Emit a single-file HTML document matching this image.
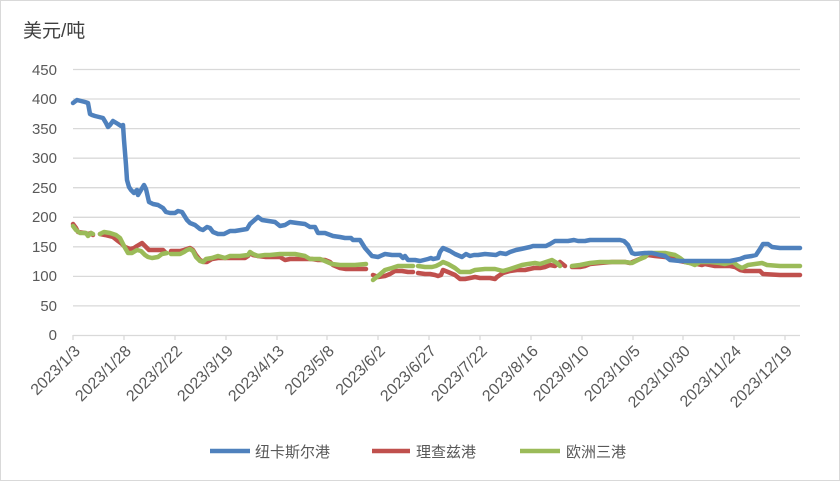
<!DOCTYPE html>
<html><head><meta charset="utf-8"><style>
body{margin:0;background:#fff;}
svg{display:block;font-family:"Liberation Sans","Noto Sans CJK SC",sans-serif;}
</style></head><body>
<svg width="840" height="481" viewBox="0 0 840 481">
<rect x="0.5" y="0.5" width="839" height="480" fill="#fff" stroke="#d9d9d9"/>
<text x="23" y="37" font-size="19" fill="#404040">美元/吨</text>
<g stroke="#d9d9d9" stroke-width="1.3">
<line x1="73" x2="800" y1="69.5" y2="69.5"/><line x1="73" x2="800" y1="99" y2="99"/>
<line x1="73" x2="800" y1="128.6" y2="128.6"/><line x1="73" x2="800" y1="158.2" y2="158.2"/>
<line x1="73" x2="800" y1="187.7" y2="187.7"/><line x1="73" x2="800" y1="217.3" y2="217.3"/>
<line x1="73" x2="800" y1="246.8" y2="246.8"/><line x1="73" x2="800" y1="276.4" y2="276.4"/>
<line x1="73" x2="800" y1="305.9" y2="305.9"/><line x1="73" x2="800" y1="335.5" y2="335.5"/>
<path d="M73,335v5M124,335v5M175,335v5M226,335v5M277,335v5M327,335v5M378,335v5M429,335v5M480,335v5M531,335v5M582,335v5M633,335v5M683,335v5M734,335v5M785,335v5"/>
</g>
<g font-size="15" fill="#595959" text-anchor="end">
<text x="57" y="75">450</text><text x="57" y="104">400</text><text x="57" y="134">350</text>
<text x="57" y="163">300</text><text x="57" y="193">250</text><text x="57" y="222">200</text>
<text x="57" y="252">150</text><text x="57" y="281">100</text><text x="57" y="311">50</text><text x="57" y="340">0</text>
</g>
<g font-size="16" fill="#595959" text-anchor="end">
<text transform="translate(81,352) rotate(-45)">2023/1/3</text>
<text transform="translate(132,352) rotate(-45)">2023/1/28</text>
<text transform="translate(183,352) rotate(-45)">2023/2/22</text>
<text transform="translate(234,352) rotate(-45)">2023/3/19</text>
<text transform="translate(285,352) rotate(-45)">2023/4/13</text>
<text transform="translate(335,352) rotate(-45)">2023/5/8</text>
<text transform="translate(386,352) rotate(-45)">2023/6/2</text>
<text transform="translate(437,352) rotate(-45)">2023/6/27</text>
<text transform="translate(488,352) rotate(-45)">2023/7/22</text>
<text transform="translate(539,352) rotate(-45)">2023/8/16</text>
<text transform="translate(590,352) rotate(-45)">2023/9/10</text>
<text transform="translate(641,352) rotate(-45)">2023/10/5</text>
<text transform="translate(691,352) rotate(-45)">2023/10/30</text>
<text transform="translate(742,352) rotate(-45)">2023/11/24</text>
<text transform="translate(793,352) rotate(-45)">2023/12/19</text>
</g>
<g fill="none" stroke-width="4.5" stroke-linejoin="round" stroke-linecap="round">
<polyline stroke="#c0504d" points="73,224 76,228 78,232 85,233 88,234 91,233 93,235"/>
<polyline stroke="#c0504d" points="100,234 105,235 113,237 118,241 122,244 125,247 130,249 134,248 137,246 142,243 146,247 149,250 155,250 163,250 165,252"/>
<polyline stroke="#c0504d" points="171,251 180,251 184,250 187,249 190,248 193,250 196,255 200,260 204,262 207,262 212,259 218,258 225,258 233,258 240,258 245,258 248,256 250,253 253,255 258,256 266,257 280,257 285,260 290,259 300,259 312,259 318,260 325,260 330,262 333,265 340,268 346,269 360,269 366,269"/>
<polyline stroke="#c0504d" points="373,275 378,277 385,276 390,274 395,271 402,271 408,272 413,272"/>
<polyline stroke="#c0504d" points="418,273 425,274 430,274 435,275 438,276 441,275 443,270 448,272 455,275 460,279 465,279 470,278 475,277 480,278 490,278 495,279 497,277 503,273 510,271 517,270 525,270 534,268 540,268 545,267 550,265 555,266 560,262 565,266"/>
<polyline stroke="#c0504d" points="572,267 580,267 585,266 590,264 600,263 612,262 625,262 630,263 635,261 642,258 648,255 655,256 665,257 675,258 680,261 690,263 697,264 702,265 705,264 710,265 715,266 725,266 730,266 735,267 740,270 745,271 750,271 755,271 760,271 763,274 780,275 800,275"/>
<polyline stroke="#9bbb59" points="73,226 76,230 80,233 86,233 88,236 91,233 93,234"/>
<polyline stroke="#9bbb59" points="100,234 104,232 110,233 116,235 120,238 124,246 128,253 132,253 137,250 141,251 145,255 148,257 152,258 158,257 162,254 167,253"/>
<polyline stroke="#9bbb59" points="171,254 180,254 184,252 187,250 190,249 193,251 196,257 200,261 203,262 206,259 212,258 218,256 225,258 230,256 240,256 248,255 250,252 253,254 258,256 265,255 270,255 280,254 295,254 305,256 310,259 320,259 325,261 332,264 340,265 355,265 366,264"/>
<polyline stroke="#9bbb59" points="373,280 378,276 385,270 392,268 398,266 404,266 413,266"/>
<polyline stroke="#9bbb59" points="418,266 425,267 432,267 436,266 440,264 443,262 448,264 455,268 460,272 470,272 475,270 485,269 495,269 503,271 510,269 516,267 522,265 528,264 535,263 540,264 546,262 552,260 557,263 560,266"/>
<polyline stroke="#9bbb59" points="572,266 580,265 585,264 590,263 600,262 615,262 625,262 632,263 640,259 645,257 648,253 655,253 665,253 675,255 680,258 685,262 690,263 695,265 700,262 710,262 720,263 725,264 733,262 738,266 742,268 748,265 755,264 762,263 767,265 780,266 800,266"/>
<polyline stroke="#4f81bd" points="73,103 77,100 85,102 88,103 90,114 92,115 95,116 103,118 106,123 108,127 110,125 113,121 118,124 121,126 123,125 124,140 126,165 127,180 129,187 131,190 134,193 137,190 138,195 141,190 144,185 146,189 149,202 153,204 158,205 163,208 166,212 170,213 175,213 178,211 182,212 187,220 190,223 195,225 200,229 203,230 207,227 210,228 213,232 218,234 224,234 230,231 235,231 241,230 247,229 250,224 258,217 262,220 275,222 280,226 285,225 290,222 297,223 305,224 310,227 315,227 318,233 325,233 333,236 340,237 345,238 351,238 353,240 360,240 365,248 372,256 378,257 385,254 392,255 400,255 403,258 405,256 408,260 415,260 420,261 428,259 431,258 433,259 438,258 440,252 443,248 450,251 455,254 462,257 466,254 470,256 474,255 478,255 485,254 496,255 500,253 506,254 510,252 516,250 521,249 530,247 533,246 540,246 546,246 550,244 555,241 563,241 568,241 574,240 578,241 585,241 590,240 610,240 620,240 624,241 628,245 632,253 635,254 645,253 652,253 656,254 660,255 665,256 670,260 680,261 700,261 730,261 735,260 740,259 745,257 752,256 756,255 760,249 763,244 768,244 772,247 780,248 800,248"/>
</g>
<g stroke-width="4.5">
<line x1="210" y1="451" x2="250" y2="451" stroke="#4f81bd"/>
<line x1="372" y1="451" x2="410" y2="451" stroke="#c0504d"/>
<line x1="520" y1="451" x2="560" y2="451" stroke="#9bbb59"/>
</g>
<g font-size="15" fill="#595959">
<text x="255" y="457">纽卡斯尔港</text>
<text x="416" y="457">理查兹港</text>
<text x="566" y="457">欧洲三港</text>
</g>
</svg>
</body></html>
